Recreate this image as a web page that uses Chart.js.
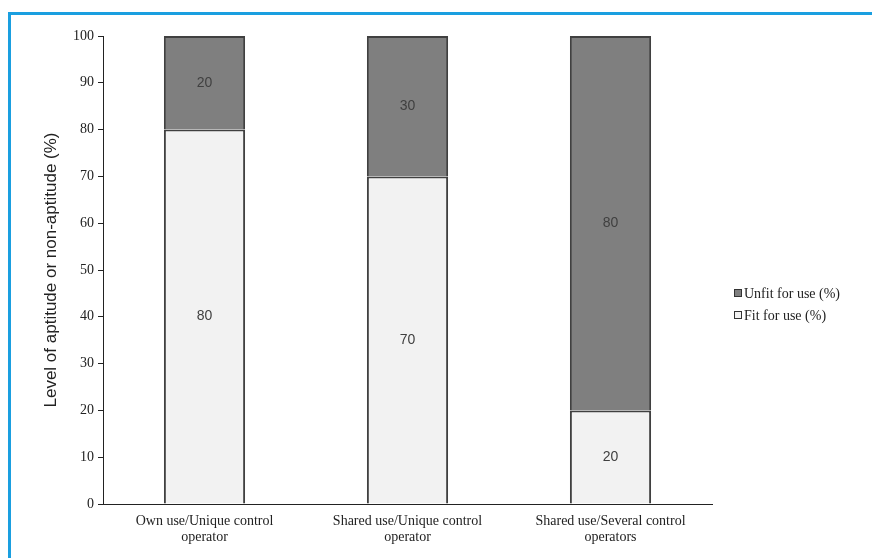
<!DOCTYPE html>
<html>
<head>
<meta charset="utf-8">
<script src="https://cdn.jsdelivr.net/npm/chart.js@4.4.1/dist/chart.umd.min.js"></script>
<style>
  html, body { margin: 0; padding: 0; background: #ffffff; }
  #wrap { position: relative; width: 872px; height: 558px; overflow: hidden; }
  #frame {
    position: absolute; left: 8px; top: 12px; width: 900px; height: 600px;
    border-top: 3px solid #1a9fe0; border-left: 3px solid #1a9fe0;
    pointer-events: none;
  }
  canvas { position: absolute; left: 0; top: 0; }
</style>
</head>
<body>
<div id="wrap">
  <canvas id="chart" width="872" height="558"></canvas>
  <div id="frame"></div>
</div>
<script>
// Usage categories (two-line labels)
const categories = [
  ['Own use/Unique control', 'operator'],
  ['Shared use/Unique control', 'operator'],
  ['Shared use/Several control', 'operators']
];
// Share of equipment fit / unfit for use, in percent
const fitForUse = [80, 70, 20];
const unfitForUse = [20, 30, 80];
// Y axis ticks
const yTicks = [0, 10, 20, 30, 40, 50, 60, 70, 80, 90, 100];

const SERIF = '"Liberation Serif", "DejaVu Serif", serif';
const SANS = '"Liberation Sans", Arial, sans-serif';

// Value labels centred in each stacked segment
const segmentLabels = {
  id: 'segmentLabels',
  afterDatasetsDraw(chart) {
    const ctx = chart.ctx;
    ctx.save();
    ctx.font = '14px ' + SANS;
    ctx.fillStyle = '#404040';
    ctx.textAlign = 'center';
    ctx.textBaseline = 'middle';
    chart.data.datasets.forEach((ds, i) => {
      chart.getDatasetMeta(i).data.forEach((bar, j) => {
        const p = bar.getProps(['x', 'y', 'base'], true);
        ctx.fillText(String(ds.data[j]), p.x, (p.y + p.base) / 2);
      });
    });
    ctx.restore();
  }
};

// Small square-marker legend to the right of the plot
const sideLegend = {
  id: 'sideLegend',
  afterDraw(chart) {
    const ctx = chart.ctx;
    const items = chart.data.datasets.slice().reverse();
    ctx.save();
    ctx.font = '14px ' + SERIF;
    ctx.textBaseline = 'middle';
    ctx.textAlign = 'left';
    const x = 734, y0 = 293, step = 22;
    items.forEach((ds, k) => {
      const y = y0 + k * step;
      ctx.fillStyle = ds.backgroundColor;
      ctx.fillRect(x, y - 4, 8, 8);
      ctx.strokeStyle = '#333333';
      ctx.lineWidth = 1;
      ctx.strokeRect(x + 0.5, y - 3.5, 7, 7);
      ctx.fillStyle = '#222222';
      ctx.fillText(ds.label, x + 10, y + 1);
    });
    ctx.restore();
  }
};

new Chart(document.getElementById('chart'), {
  type: 'bar',
  data: {
    labels: categories,
    datasets: [
      {
        label: 'Fit for use (%)',
        data: fitForUse,
        backgroundColor: '#f2f2f2',
        borderColor: '#404040',
        borderWidth: 2,
        categoryPercentage: 1,
        barPercentage: 0.4
      },
      {
        label: 'Unfit for use (%)',
        data: unfitForUse,
        backgroundColor: '#7f7f7f',
        borderColor: '#404040',
        borderWidth: 2,
        categoryPercentage: 1,
        barPercentage: 0.4
      }
    ]
  },
  options: {
    responsive: false,
    animation: false,
    layout: { padding: { left: 41, right: 160, top: 36, bottom: 0 } },
    plugins: {
      legend: { display: false },
      tooltip: { enabled: false }
    },
    scales: {
      x: {
        stacked: true,
        grid: { display: false, drawTicks: false },
        border: { display: true, color: '#222222', width: 1 },
        ticks: {
          padding: 9,
          color: '#222222',
          font: { family: SERIF, size: 14, lineHeight: 1.15 },
          maxRotation: 0
        },
        afterFit(scale) { scale.height = 54; }
      },
      y: {
        stacked: true,
        min: 0,
        max: 100,
        afterBuildTicks(scale) { scale.ticks = yTicks.map(v => ({ value: v })); },
        grid: { drawOnChartArea: false, drawTicks: true, tickLength: 5, color: '#222222' },
        border: { display: true, color: '#222222', width: 1 },
        ticks: {
          padding: 4,
          color: '#222222',
          font: { family: SERIF, size: 14 }
        },
        title: {
          display: true,
          text: 'Level of aptitude or non-aptitude (%)',
          color: '#222222',
          font: { family: SANS, size: 17 },
          padding: { top: 0, bottom: 0 }
        },
        afterFit(scale) { scale.width = 62; }
      }
    }
  },
  plugins: [segmentLabels, sideLegend]
});
</script>
</body>
</html>
